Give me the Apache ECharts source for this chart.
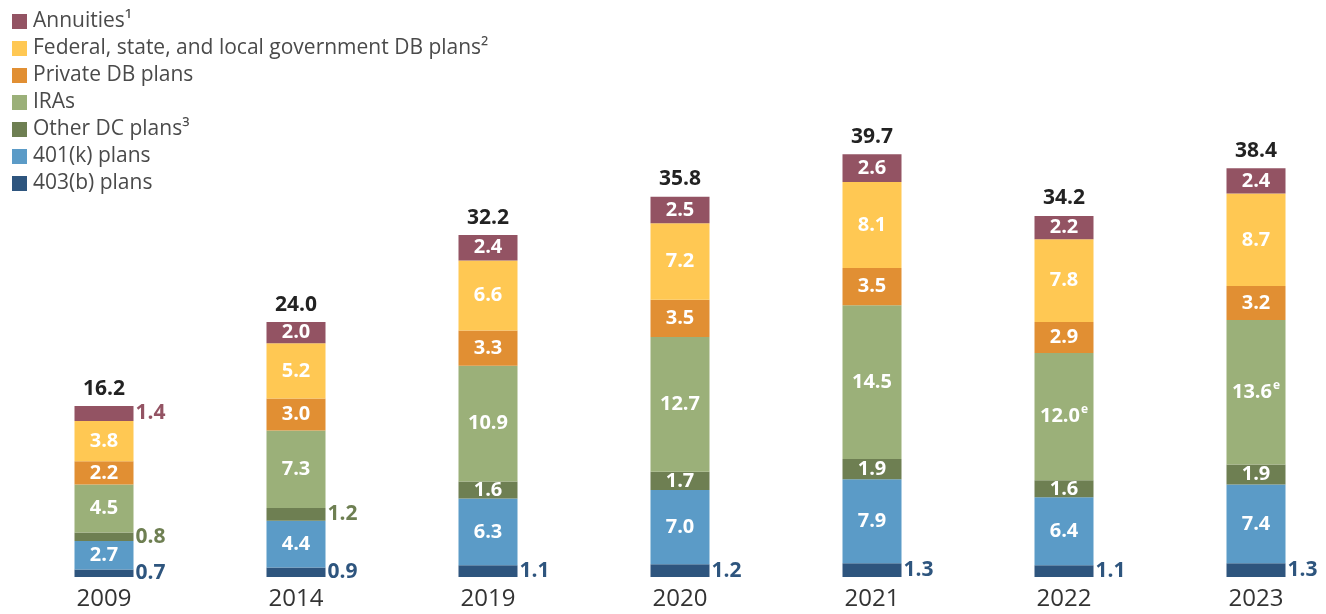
<!DOCTYPE html>
<html>
<head>
<meta charset="utf-8">
<script src="https://cdn.jsdelivr.net/npm/echarts@6/dist/echarts.min.js"></script>
<style>
  html, body { margin: 0; padding: 0; background: #fff; }
  #main { width: 1326px; height: 614px; }
</style>
</head>
<body>
<div id="main"></div>
<script>
// years on x axis
var years = ['2009', '2014', '2019', '2020', '2021', '2022', '2023']
// trillions of dollars, bottom to top of each bar
var plans403b = [0.7, 0.9, 1.1, 1.2, 1.3, 1.1, 1.3]
var plans401k = [2.7, 4.4, 6.3, 7.0, 7.9, 6.4, 7.4]
var otherDC = [0.8, 1.2, 1.6, 1.7, 1.9, 1.6, 1.9]
var iras = [4.5, 7.3, 10.9, 12.7, 14.5, 12.0, 13.6]
var privateDB = [2.2, 3.0, 3.3, 3.5, 3.5, 2.9, 3.2]
var govDB = [3.8, 5.2, 6.6, 7.2, 8.1, 7.8, 8.7]
var annuities = [1.4, 2.0, 2.4, 2.5, 2.6, 2.2, 2.4]
var totals = ['16.2', '24.0', '32.2', '35.8', '39.7', '34.2', '38.4']
// IRA values that are estimates
var estimated = [false, false, false, false, false, true, true]

var FONT = '"Open Sans", Lato, sans-serif'
var colors = {
  annuities: '#935363',
  govDB: '#ffc853',
  privateDB: '#e18f33',
  iras: '#9bb079',
  otherDC: '#6e7f52',
  k401: '#5b9bc7',
  b403: '#2e557e'
}

var chart = echarts.init(document.getElementById('main'))

var insideLabel = {
  show: true,
  position: 'inside',
  color: '#fff',
  fontFamily: FONT,
  fontWeight: 'bold',
  fontSize: 20,
  formatter: function (p) { return p.value.toFixed(1) }
}

// small segments get their label to the right in the series colour
function rightLabel (color) {
  return {
    show: true,
    position: 'right',
    distance: 2,
    color: color,
    fontFamily: FONT,
    fontWeight: 'bold',
    fontSize: 21,
    formatter: function (p) { return p.value.toFixed(1) }
  }
}

function barSeries (name, values, color, outsideIdx) {
  return {
    name: name,
    type: 'bar',
    stack: 'total',
    barWidth: 59,
    itemStyle: { color: color },
    label: insideLabel,
    emphasis: { disabled: true },
    data: values.map(function (v, i) {
      var d = { value: v }
      if (outsideIdx === 'all' || (outsideIdx && outsideIdx.indexOf(i) >= 0)) {
        d.label = rightLabel(color)
      }
      return d
    })
  }
}

var iraSeries = barSeries('IRAs', iras, colors.iras)
iraSeries.label = Object.assign({}, insideLabel, {
  formatter: function (p) {
    var s = '{v|' + p.value.toFixed(1) + '}'
    if (estimated[p.dataIndex]) s += '{e|e}'
    return s
  },
  rich: {
    v: { color: '#fff', fontFamily: FONT, fontWeight: 'bold', fontSize: 20 },
    e: { color: '#fff', fontFamily: FONT, fontSize: 12, padding: [0, 0, 14, 1] }
  }
})

var option = {
  animation: false,
  backgroundColor: '#fff',
  textStyle: { fontFamily: FONT },
  grid: { left: 8, width: 1344, top: 46, bottom: 37, outerBoundsMode: 'none' },
  legend: {
    orient: 'vertical',
    left: 7,
    top: 6,
    itemWidth: 15,
    itemHeight: 15,
    itemGap: 6,
    icon: 'rect',
    selectedMode: false,
    textStyle: { color: '#4a4a4a', fontSize: 21, lineHeight: 21, fontFamily: FONT, padding: [0, 0, 0, 1] },
    data: ['Annuities¹', 'Federal, state, and local government DB plans²', 'Private DB plans',
      'IRAs', 'Other DC plans³', '401(k) plans', '403(b) plans']
  },
  xAxis: {
    type: 'category',
    data: years,
    axisLine: { show: false },
    axisTick: { show: false },
    axisLabel: { color: '#333', fontSize: 24, fontFamily: FONT, margin: 10 }
  },
  yAxis: {
    type: 'value',
    min: 0,
    max: 50,
    show: false,
    splitLine: { show: false }
  },
  series: [
    barSeries('403(b) plans', plans403b, colors.b403, 'all'),
    barSeries('401(k) plans', plans401k, colors.k401),
    barSeries('Other DC plans³', otherDC, colors.otherDC, [0, 1]),
    iraSeries,
    barSeries('Private DB plans', privateDB, colors.privateDB),
    barSeries('Federal, state, and local government DB plans²', govDB, colors.govDB),
    barSeries('Annuities¹', annuities, colors.annuities, [0]),
    {
      name: 'total',
      type: 'bar',
      stack: 'total',
      barWidth: 59,
      data: years.map(function () { return 0 }),
      label: {
        show: true,
        position: 'top',
        distance: 7,
        color: '#222',
        fontFamily: FONT,
        fontWeight: 'bold',
        fontSize: 21,
        formatter: function (p) { return totals[p.dataIndex] }
      }
    }
  ]
}

chart.setOption(option)
</script>
</body>
</html>
